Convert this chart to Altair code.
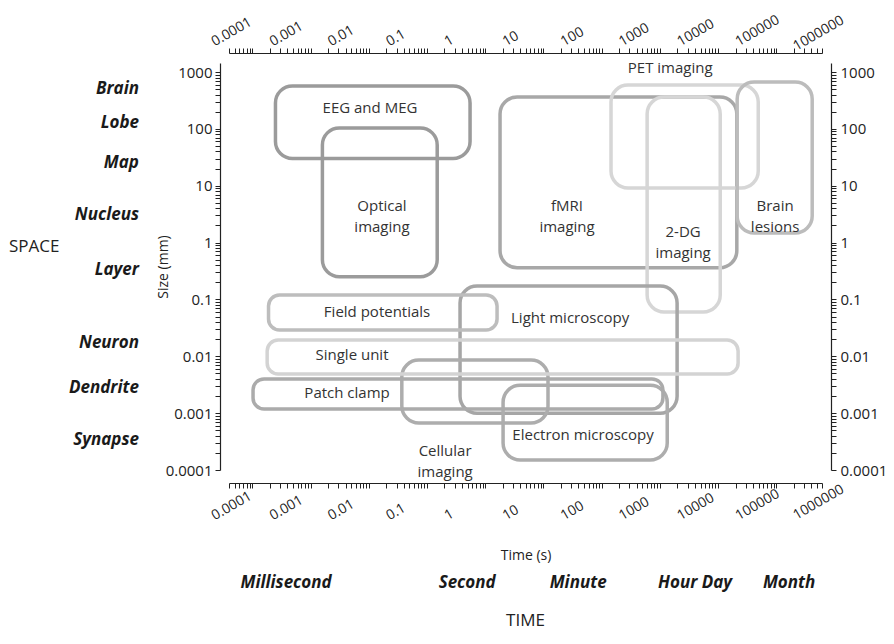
import altair as alt
import pandas as pd

# ---------------- data ----------------
box_names = ["EEG and MEG", "Optical imaging", "fMRI imaging", "PET imaging",
             "2-DG imaging", "Brain lesions", "Field potentials", "Light microscopy",
             "Single unit", "Patch clamp", "Cellular imaging", "Electron microscopy"]
time_lo = [2.5e-4, 1.6e-3, 1.8, 145, 605, 21300, 1.9e-4, 0.37, 1.8e-4, 1.03e-4, 0.037, 2.03]
time_hi = [0.55, 0.15, 21000, 49000, 10900, 414000, 1.6, 1980, 22100, 1130, 12, 1340]
size_lo = [30, 0.25, 0.36, 9.1, 0.06, 1.47, 0.029, 0.001, 0.0049, 0.00118, 6.7e-4, 1.5e-4]
size_hi = [570, 104, 363, 590, 363, 667, 0.12, 0.172, 0.0194, 0.004, 0.0086, 0.0031]

label_text = ["EEG and MEG", "Optical\nimaging", "fMRI\nimaging", "PET imaging",
              "2-DG\nimaging", "Brain\nlesions", "Field potentials", "Light microscopy",
              "Single unit", "Patch clamp", "Cellular\nimaging", "Electron microscopy"]
label_time = [0.0105, 0.0169, 25.5, 1507, 2510, 95500, 0.0139, 28.8, 0.00516, 0.00424, 0.205, 48]
label_size = [233, 4.4, 4.4, 1175, 1.53, 4.4, 0.060, 0.047, 0.0105, 0.00226, 2.16e-4, 4.13e-4]

space_names = ["Brain", "Lobe", "Map", "Nucleus", "Layer", "Neuron", "Dendrite", "Synapse"]
space_sizes = [502, 127, 25, 3.05, 0.33, 0.0171, 0.00277, 0.000337]

time_names = ["Millisecond", "Second", "Minute", "Hour Day", "Month"]
time_marks = [3.8e-4, 0.49, 39.5, 4040, 166000]

# style mapping for the box outlines
box_grays = ["#9b9b9b", "#9b9b9b", "#a8a8a8", "#d6d6d6", "#d6d6d6", "#bcbcbc",
             "#bdbdbd", "#a6a6a6", "#d3d3d3", "#ababab", "#adadad", "#adadad"]
thin_boxes = ["Field potentials", "Single unit", "Patch clamp"]

boxes = pd.DataFrame({"name": box_names, "t0": time_lo, "t1": time_hi,
                      "s0": size_lo, "s1": size_hi})
labels = pd.DataFrame({"label": label_text, "t": label_time, "s": label_size})
space_df = pd.DataFrame({"name": space_names, "s": space_sizes})
time_df = pd.DataFrame({"name": time_names, "t": time_marks})
edge_df = pd.DataFrame({"t": [1e6], "lab": ["1000000"]})
one = pd.DataFrame({"k": [0]})

# ---------------- layout / style ----------------
FONT = "Open Sans"
INK = "#222222"
W, H = 593, 407
X_DOMAIN = [3.98e-5, 6.1e5]
Y_DOMAIN = [1e-4, 1440]


def log_ticks(lo_exp, hi_exp):
    vals = []
    for e in range(lo_exp, hi_exp + 1):
        for m in range(1, 10):
            vals.append(float(f"{m}e{e}"))
    return vals


x_ticks = log_ticks(-5, 6)
y_ticks = log_ticks(-5, 3)
DECADE = ("abs(log(datum.value)/LN10 - round(log(datum.value)/LN10)) < 1e-6 "
          "? '' + datum.value : ''")

xs = alt.Scale(type="log", domain=X_DOMAIN, nice=False, clamp=False)
ys = alt.Scale(type="log", domain=Y_DOMAIN, nice=False, clamp=False)
cs = alt.Scale(domain=box_names, range=box_grays)

common = dict(grid=False, domainColor=INK, domainWidth=1.2, tickColor=INK,
              tickWidth=1, tickSize=5, labelFont=FONT, labelColor=INK,
              labelExpr=DECADE, labelOverlap=False, labelFlush=False,
              labelBound=False)

XLAB = 14
ANG = 330
TOP_PAD = 2
x_bottom = alt.Axis(orient="bottom", values=x_ticks, offset=13, labelFontSize=XLAB,
                    labelAngle=ANG, labelAlign="left", labelBaseline="alphabetic",
                    labelPadding=32, labelOffset=-38,
                    title="Time (s)", titleFont=FONT, titleFontSize=14,
                    titleFontWeight="normal", titleColor=INK,
                    titleX=296.5, titleY=72, titleAlign="center",
                    titleBaseline="middle", **common)
x_top = alt.Axis(orient="top", values=x_ticks, offset=10, labelFontSize=XLAB,
                 labelAngle=ANG, labelAlign="left", labelBaseline="alphabetic",
                 labelPadding=TOP_PAD, labelOffset=-38, title=None, **common)
y_left = alt.Axis(orient="left", values=y_ticks, offset=9, labelFontSize=15,
                  labelPadding=3, title="Size (mm)", titleFont=FONT,
                  titleFontSize=14, titleFontWeight="normal", titleColor=INK,
                  titleX=-57, titleY=203.5, titleAngle=270, titleAlign="center",
                  titleBaseline="middle", **common)
y_right = alt.Axis(orient="right", values=y_ticks, offset=9, labelFontSize=15,
                   labelPadding=4, title=None, **common)

# ---------------- layers ----------------
big = alt.Chart(boxes).transform_filter(
    ~alt.FieldOneOfPredicate(field="name", oneOf=thin_boxes)
).mark_rect(filled=False, strokeWidth=3.5, cornerRadius=17).encode(
    x=alt.X("t0:Q", scale=xs, axis=x_bottom),
    x2="t1:Q",
    y=alt.Y("s0:Q", scale=ys, axis=y_left),
    y2="s1:Q",
    color=alt.Color("name:N", scale=cs, legend=None),
)

thin = alt.Chart(boxes).transform_filter(
    alt.FieldOneOfPredicate(field="name", oneOf=thin_boxes)
).mark_rect(filled=False, strokeWidth=3.5, cornerRadius=11).encode(
    x=alt.X("t0:Q", scale=xs, axis=None),
    x2="t1:Q",
    y=alt.Y("s0:Q", scale=ys, axis=None),
    y2="s1:Q",
    color=alt.Color("name:N", scale=cs, legend=None),
)

box_text = alt.Chart(labels).mark_text(
    font=FONT, fontSize=15, color="#333333", align="center", baseline="middle",
    lineBreak="\n", lineHeight=21
).encode(
    x=alt.X("t:Q", scale=xs, axis=x_top),
    y=alt.Y("s:Q", scale=ys, axis=y_right),
    text="label:N",
)

space_text = alt.Chart(space_df).mark_text(
    font=FONT, fontSize=17, fontStyle="italic", fontWeight="bold", color="#1a1a1a",
    align="right", baseline="middle"
).encode(
    x=alt.value(-90),
    y=alt.Y("s:Q", scale=ys, axis=None),
    text="name:N",
)

time_text = alt.Chart(time_df).mark_text(
    font=FONT, fontSize=17, fontStyle="italic", fontWeight="bold", color="#1a1a1a",
    align="center", baseline="middle"
).encode(
    x=alt.X("t:Q", scale=xs, axis=None),
    y=alt.value(520),
    text="name:N",
)

# rotated-frame offsets equal to a 38 px shift to the left on screen (angle 30 deg)
edge_bottom = alt.Chart(edge_df).mark_text(
    font=FONT, fontSize=XLAB, color=INK, align="left", baseline="alphabetic",
    angle=ANG, dx=-32.9, dy=-19.0
).encode(
    x=alt.X("t:Q", scale=xs, axis=None),
    y=alt.value(H + 13 + 5 + 32),
    text="lab:N",
)

edge_top = alt.Chart(edge_df).mark_text(
    font=FONT, fontSize=XLAB, color=INK, align="left", baseline="alphabetic",
    angle=ANG, dx=-32.9, dy=-19.0
).encode(
    x=alt.X("t:Q", scale=xs, axis=None),
    y=alt.value(-12),
    text="lab:N",
)

space_title = alt.Chart(one).mark_text(
    text="SPACE", font=FONT, fontSize=17, color=INK, align="left", baseline="middle"
).encode(x=alt.value(-220), y=alt.value(184))

time_title = alt.Chart(one).mark_text(
    text="TIME", font=FONT, fontSize=17, color=INK, align="center", baseline="middle"
).encode(x=alt.value(296.5), y=alt.value(558))

chart = alt.layer(
    big, thin, box_text, space_text, time_text, edge_bottom, edge_top,
    space_title, time_title
).resolve_axis(
    x="independent", y="independent"
).properties(
    width=W, height=H,
    autosize=alt.AutoSizeParams(type="none"),
    padding={"left": 221, "top": 55, "right": 64, "bottom": 165},
).configure_view(strokeWidth=0)

chart.save("out.html", embed_options={"renderer": "svg", "actions": False})
